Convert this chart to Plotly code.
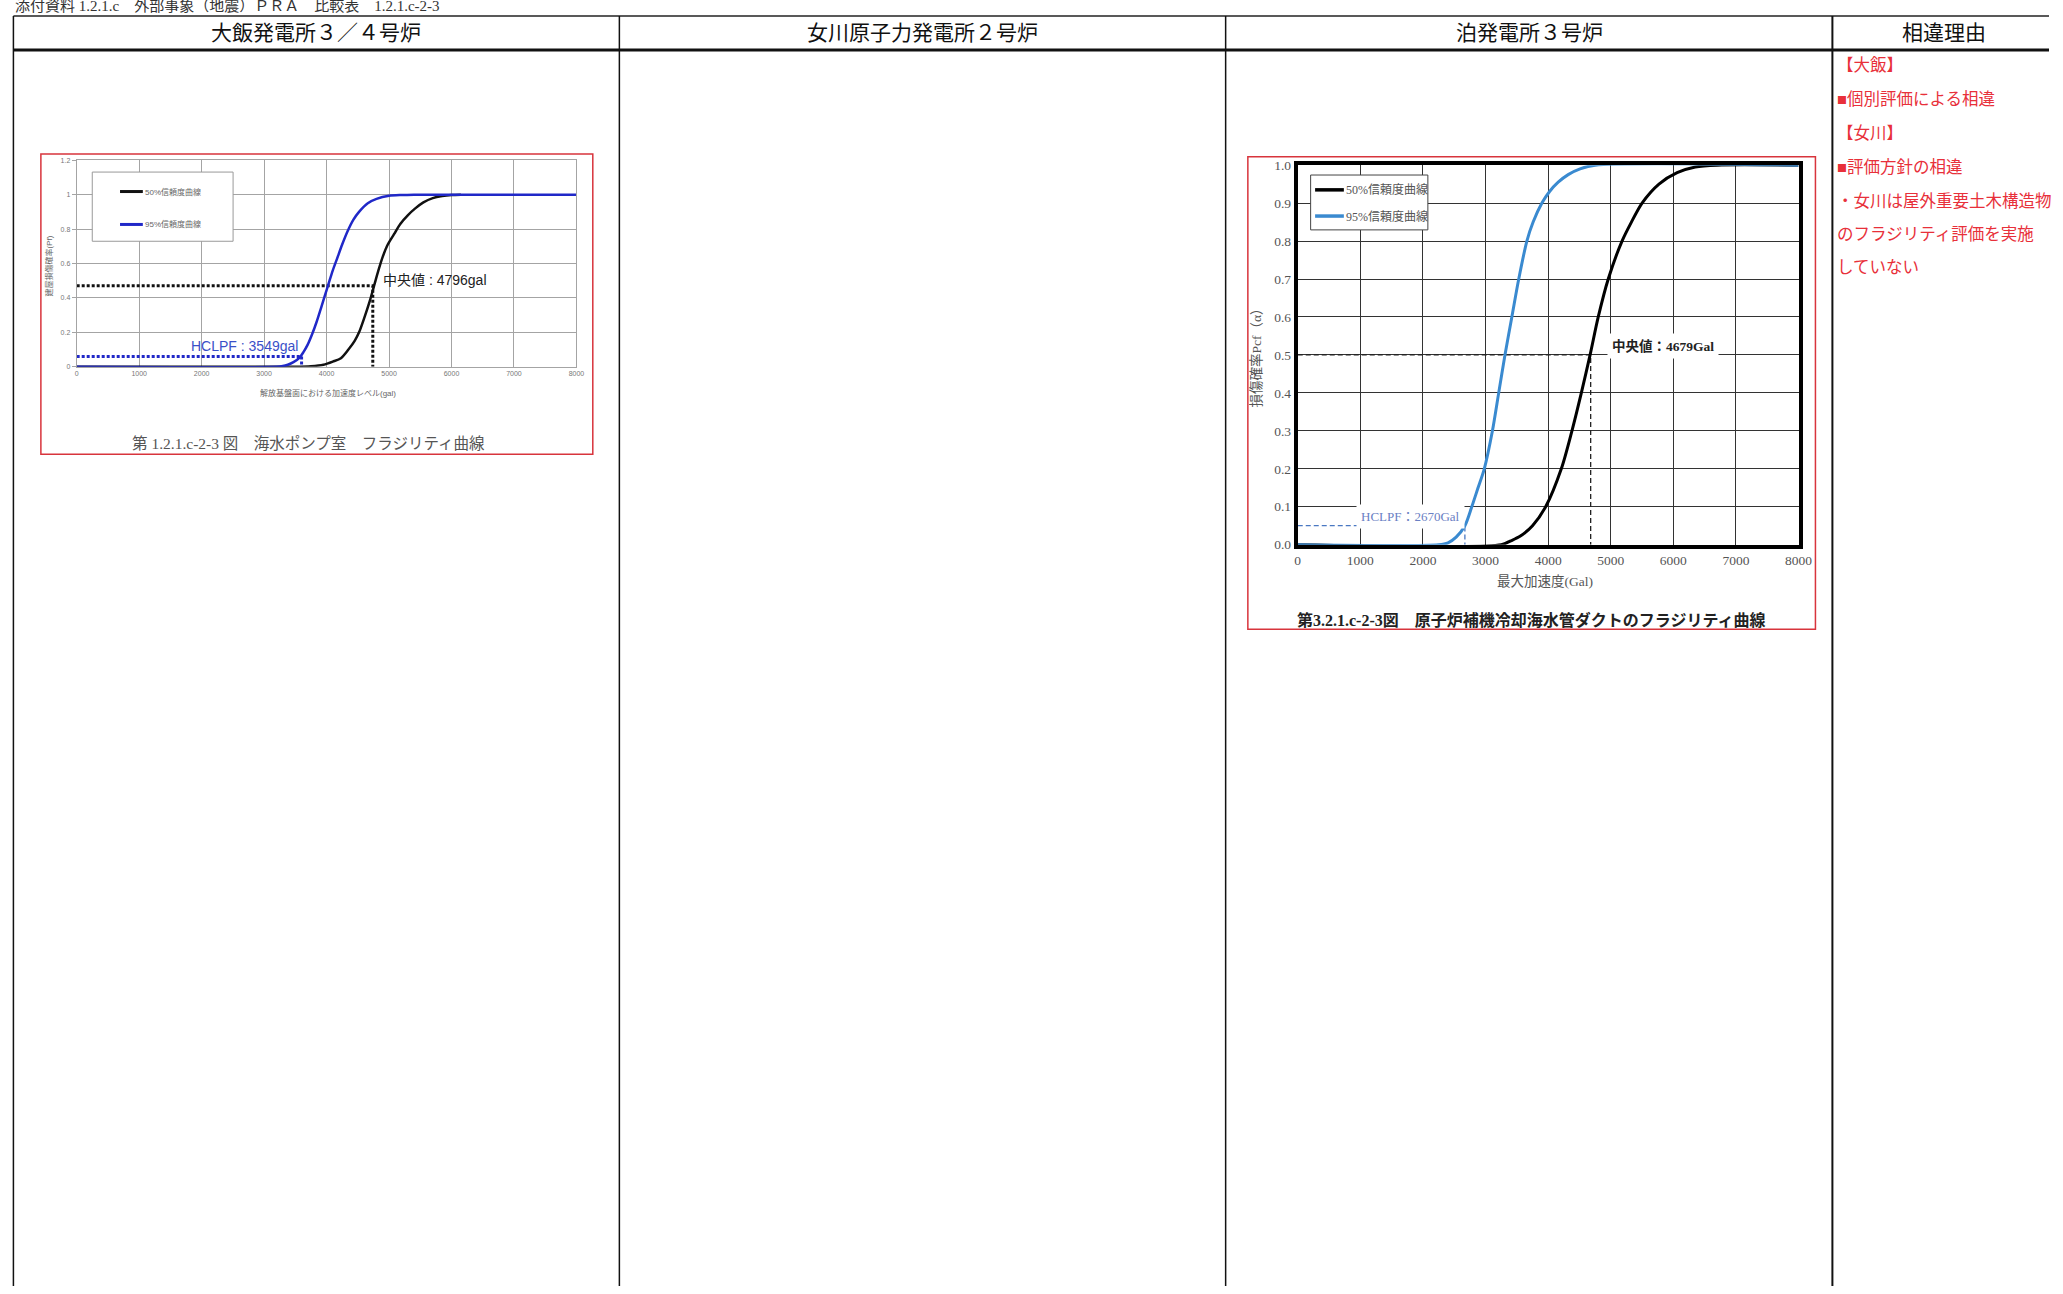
import plotly.graph_objects as go

W, H = 2063, 1294

# ---------------- data ----------------
# 大飯 3/4号炉 海水ポンプ室
ohi_x_50 = [0, 3500, 3750, 3950, 4100, 4230, 4350, 4450, 4520, 4600, 4690, 4760, 4830, 4900,
            4980, 5080, 5180, 5300, 5420, 5550, 5700, 5850, 6000, 6150]
ohi_y_50 = [0, 0, 0.003, 0.012, 0.03, 0.05, 0.1, 0.15, 0.2, 0.28, 0.38, 0.47, 0.56, 0.64,
            0.71, 0.77, 0.83, 0.88, 0.92, 0.955, 0.98, 0.992, 0.998, 1.0]
ohi_x_95 = [0, 3200, 3300, 3380, 3470, 3560, 3630, 3700, 3770, 3840, 3910, 3970, 4030, 4100,
            4170, 4250, 4340, 4430, 4520, 4660, 4800, 5000, 5200, 5400, 8000]
ohi_y_95 = [0, 0, 0.004, 0.012, 0.027, 0.05, 0.085, 0.13, 0.19, 0.26, 0.34, 0.41, 0.48, 0.56,
            0.63, 0.71, 0.79, 0.855, 0.9, 0.95, 0.975, 0.993, 0.998, 1.0, 1.0]
ohi_median_label = "中央値 : 4796gal"
ohi_median_x = [0, 4740, 4740]
ohi_median_y = [0.47, 0.47, 0]
ohi_hclpf_label = "HCLPF : 3549gal"
ohi_hclpf_x = [0, 3600, 3600]
ohi_hclpf_y = [0.06, 0.06, 0]
ohi_xticks = [0, 1000, 2000, 3000, 4000, 5000, 6000, 7000, 8000]
ohi_yticks = [0, 0.2, 0.4, 0.6, 0.8, 1.0, 1.2]
ohi_yticktext = ["0", "0.2", "0.4", "0.6", "0.8", "1", "1.2"]

# 泊 3号炉 原子炉補機冷却海水管ダクト
tom_x_50 = [0, 3250, 3400, 3550, 3750, 3960, 4210, 4380, 4530, 4670, 4800, 4960, 5180, 5330,
            5500, 5770, 6060, 6350, 6700, 8000]
tom_y_50 = [0, 0, 0.01, 0.022, 0.05, 0.1, 0.2, 0.3, 0.4, 0.5, 0.6, 0.7, 0.8, 0.85,
            0.9, 0.95, 0.98, 0.995, 1.0, 1.0]
tom_x_95 = [0, 2250, 2400, 2530, 2670, 2780, 2880, 2980, 3110, 3210, 3310, 3420, 3530, 3660,
            3760, 3900, 4020, 4160, 4320, 4510, 4750, 8000]
tom_y_95 = [0, 0, 0.005, 0.02, 0.05, 0.1, 0.15, 0.2, 0.3, 0.4, 0.5, 0.6, 0.7, 0.8,
            0.85, 0.9, 0.93, 0.955, 0.975, 0.99, 1.0, 1.0]
tom_median_label = "中央値：4679Gal"
tom_median_x = [0, 4679, 4679]
tom_median_y = [0.5, 0.5, 0]
tom_hclpf_label = "HCLPF：2670Gal"
tom_hclpf_x = [0, 2670, 2670]
tom_hclpf_y = [0.05, 0.05, 0]
tom_xticks = [0, 1000, 2000, 3000, 4000, 5000, 6000, 7000, 8000]
tom_yticks = [0.0, 0.1, 0.2, 0.3, 0.4, 0.5, 0.6, 0.7, 0.8, 0.9, 1.0]

series_names = ["50%信頼度曲線", "95%信頼度曲線"]
column_headers = ["大飯発電所３／４号炉", "女川原子力発電所２号炉", "泊発電所３号炉", "相違理由"]
reason_lines = ["【大飯】", "■個別評価による相違", "【女川】", "■評価方針の相違",
                "・女川は屋外重要土木構造物", "のフラジリティ評価を実施", "していない"]

# ---------------- helpers (screen pixel -> paper) ----------------
def px(x):
    return x / W

def py(y):
    return 1 - y / H

SERIF = "Liberation Serif, Noto Sans CJK JP"
SANS = "Liberation Sans, Noto Sans CJK JP"
NARROW = "Liberation Sans Narrow, Liberation Sans, Noto Sans CJK JP"

OHI_BLUE = "#2028c8"
TOM_BLUE = "#3a8ad0"

fig = go.Figure()

# ---- 大飯 traces ----
fig.add_trace(go.Scatter(x=ohi_median_x, y=ohi_median_y, mode="lines", xaxis="x", yaxis="y",
                         line=dict(color="#111", width=3, dash="3px,2px"), showlegend=False,
                         hoverinfo="skip"))
fig.add_trace(go.Scatter(x=ohi_hclpf_x, y=ohi_hclpf_y, mode="lines", xaxis="x", yaxis="y",
                         line=dict(color=OHI_BLUE, width=3, dash="3px,2px"), showlegend=False,
                         hoverinfo="skip"))
fig.add_trace(go.Scatter(x=ohi_x_50, y=ohi_y_50, mode="lines", name=series_names[0],
                         xaxis="x", yaxis="y", line=dict(color="#111", width=2.5, shape="spline",
                                                         smoothing=0.8), showlegend=False))
fig.add_trace(go.Scatter(x=ohi_x_95, y=ohi_y_95, mode="lines", name=series_names[1],
                         xaxis="x", yaxis="y", line=dict(color=OHI_BLUE, width=2.5, shape="spline",
                                                         smoothing=0.8), showlegend=False))

# ---- 泊 traces ----
fig.add_trace(go.Scatter(x=tom_median_x, y=tom_median_y, mode="lines", xaxis="x2", yaxis="y2",
                         line=dict(color="#222", width=1.3, dash="5px,3px"), showlegend=False,
                         hoverinfo="skip"))
fig.add_trace(go.Scatter(x=tom_hclpf_x, y=tom_hclpf_y, mode="lines", xaxis="x2", yaxis="y2",
                         line=dict(color="#4a78c2", width=1.3, dash="5px,3px"), showlegend=False,
                         hoverinfo="skip"))
fig.add_trace(go.Scatter(x=tom_x_50, y=tom_y_50, mode="lines", name=series_names[0],
                         xaxis="x2", yaxis="y2", line=dict(color="#000", width=3, shape="spline",
                                                           smoothing=0.8), showlegend=False))
fig.add_trace(go.Scatter(x=tom_x_95, y=tom_y_95, mode="lines", name=series_names[1],
                         xaxis="x2", yaxis="y2", line=dict(color=TOM_BLUE, width=3, shape="spline",
                                                           smoothing=0.8), showlegend=False))

shapes = []
annotations = []

# ---- table lines ----
tbl_left, tbl_top, tbl_hdr = 10.5, 9.2, 43.4
col_x = [10.5, 621.5, 1232.8, 1844.6, 2063]
shapes.append(dict(type="line", xref="paper", yref="paper", x0=px(tbl_left), x1=1,
                   y0=py(tbl_top), y1=py(tbl_top), line=dict(color="#222", width=1.5)))
shapes.append(dict(type="line", xref="paper", yref="paper", x0=px(tbl_left), x1=1,
                   y0=py(tbl_hdr), y1=py(tbl_hdr), line=dict(color="#111", width=3)))
for i, cx in enumerate(col_x[:4]):
    shapes.append(dict(type="line", xref="paper", yref="paper", x0=px(cx), x1=px(cx),
                       y0=py(tbl_top), y1=0, line=dict(color="#111", width=2 if i == 3 else 1.5)))
for i, txt in enumerate(column_headers):
    annotations.append(dict(text=txt, xref="paper", yref="paper",
                            x=px((col_x[i] + col_x[i + 1]) / 2) if i < 3 else px(1957),
                            y=py(26.5), xanchor="center", yanchor="middle", showarrow=False,
                            font=dict(family=SERIF, size=21, color="#111")))

# cut-off page header at the very top
annotations.append(dict(text="添付資料 1.2.1.c　外部事象（地震）ＰＲＡ　比較表　1.2.1.c-2-3",
                        xref="paper", yref="paper", x=px(10), y=py(-1), xanchor="left",
                        yanchor="middle", showarrow=False,
                        font=dict(family=SERIF, size=15, color="#333")))

# ---- reason column ----
reason_y = [59, 93.4, 127.6, 161.8, 196, 230, 263]
for txt, yy in zip(reason_lines, reason_y):
    annotations.append(dict(text=txt, xref="paper", yref="paper", x=px(1847), y=py(yy),
                            xanchor="left", yanchor="middle", showarrow=False,
                            font=dict(family=SANS, size=16.5, color="#e8303a")))

# ---- red frames ----
shapes.append(dict(type="rect", xref="paper", yref="paper", x0=px(38.2), x1=px(594.7),
                   y0=py(148.7), y1=py(452.6), line=dict(color="#d8343c", width=1.5)))
shapes.append(dict(type="rect", xref="paper", yref="paper", x0=px(1255.2), x1=px(1827.5),
                   y0=py(151.5), y1=py(629.5), line=dict(color="#d8343c", width=1.5)))

# ---- 大飯 legend ----
shapes.append(dict(type="rect", xref="paper", yref="paper", x0=px(90), x1=px(232),
                   y0=py(167), y1=py(237), line=dict(color="#999", width=1),
                   fillcolor="white", layer="above"))
for yy, col in [(186.7, "#111"), (220, OHI_BLUE)]:
    shapes.append(dict(type="line", xref="paper", yref="paper", x0=px(118), x1=px(141),
                       y0=py(yy), y1=py(yy), line=dict(color=col, width=3), layer="above"))
for yy, nm in [(186.7, series_names[0]), (220, series_names[1])]:
    annotations.append(dict(text=nm, xref="paper", yref="paper", x=px(141), y=py(yy),
                            xanchor="left", yanchor="middle", showarrow=False,
                            font=dict(family=SANS, size=8, color="#666")))

# ---- 泊 legend ----
shapes.append(dict(type="rect", xref="paper", yref="paper", x0=px(1318.5), x1=px(1436.7),
                   y0=py(170), y1=py(225.5), line=dict(color="#444", width=1),
                   fillcolor="white", layer="above"))
for yy, col in [(185, "#000"), (211.5, TOM_BLUE)]:
    shapes.append(dict(type="line", xref="paper", yref="paper", x0=px(1323), x1=px(1352),
                       y0=py(yy), y1=py(yy), line=dict(color=col, width=3.5), layer="above"))
for yy, nm in [(185, series_names[0]), (211.5, series_names[1])]:
    annotations.append(dict(text=nm, xref="paper", yref="paper", x=px(1352), y=py(yy),
                            xanchor="left", yanchor="middle", showarrow=False,
                            font=dict(family=SERIF, size=12, color="#555")))

# ---- 大飯 texts ----
annotations.append(dict(text=ohi_median_label, xref="x", yref="y", x=4870, y=0.505,
                        xanchor="left", yanchor="middle", showarrow=False,
                        font=dict(family=NARROW, size=14, color="#222")))
annotations.append(dict(text=ohi_hclpf_label, xref="x", yref="y", x=2680, y=0.12,
                        xanchor="center", yanchor="middle", showarrow=False,
                        font=dict(family=NARROW, size=14, color="#3a50c8")))
annotations.append(dict(text="解放基盤面における加速度レベル(gal)", xref="paper", yref="paper",
                        x=px(327.6), y=py(391), xanchor="center", yanchor="middle", showarrow=False,
                        font=dict(family=SANS, size=8, color="#666")))
annotations.append(dict(text="建屋損傷確率(Pf)", xref="paper", yref="paper",
                        x=px(46), y=py(262), xanchor="center", yanchor="middle", showarrow=False,
                        textangle=-90, font=dict(family=SANS, size=8, color="#666")))
annotations.append(dict(text="第 1.2.1.c-2-3 図　海水ポンプ室　フラジリティ曲線", xref="paper", yref="paper",
                        x=px(308), y=py(442), xanchor="center", yanchor="middle", showarrow=False,
                        font=dict(family=SERIF, size=15.5, color="#555")))

# ---- 泊 texts ----
annotations.append(dict(text="<b>" + tom_median_label + "</b>", xref="x2", yref="y2", x=4940, y=0.524,
                        xanchor="left", yanchor="middle", showarrow=False, bgcolor="white",
                        borderpad=4, font=dict(family=SERIF, size=13.5, color="#222")))
annotations.append(dict(text=tom_hclpf_label, xref="x2", yref="y2", x=1798, y=0.0755,
                        xanchor="center", yanchor="middle", showarrow=False, bgcolor="white",
                        borderpad=4, font=dict(family=SERIF, size=13, color="#6a80c4")))
annotations.append(dict(text="最大加速度(Gal)", xref="paper", yref="paper",
                        x=px(1555), y=py(581.5), xanchor="center", yanchor="middle", showarrow=False,
                        font=dict(family=SERIF, size=13.5, color="#555")))
annotations.append(dict(text="損傷確率Pcf（α）", xref="paper", yref="paper",
                        x=px(1264), y=py(352), xanchor="center", yanchor="middle", showarrow=False,
                        textangle=-90, font=dict(family=SERIF, size=13.5, color="#555")))
annotations.append(dict(text="<b>第3.2.1.c-2-3図　原子炉補機冷却海水管ダクトのフラジリティ曲線</b>",
                        xref="paper", yref="paper", x=px(1541), y=py(620), xanchor="center",
                        yanchor="middle", showarrow=False,
                        font=dict(family=SERIF, size=16, color="#222")))

fig.update_layout(
    width=W, height=H, margin=dict(l=0, r=0, t=0, b=0),
    paper_bgcolor="white", plot_bgcolor="white", showlegend=False,
    shapes=shapes, annotations=annotations,
    xaxis=dict(domain=[px(74.3), px(578.2)], range=[0, 8000], tickvals=ohi_xticks,
               ticktext=[str(v) for v in ohi_xticks], showgrid=True, gridcolor="#a4a4a4",
               gridwidth=1, showline=True, mirror=True, linecolor="#a4a4a4", linewidth=1,
               zeroline=False, ticks="", tickfont=dict(family=SANS, size=7, color="#777"),
               anchor="y", fixedrange=True),
    yaxis=dict(domain=[py(364), py(155)], range=[0, 1.2], tickvals=ohi_yticks,
               ticktext=ohi_yticktext, showgrid=True, gridcolor="#a4a4a4", gridwidth=1,
               showline=True, mirror=True, linecolor="#a4a4a4", linewidth=1, zeroline=False,
               ticks="outside", ticklen=4, tickcolor="#a4a4a4",
               tickfont=dict(family=SANS, size=7, color="#777"), anchor="x", fixedrange=True),
    xaxis2=dict(domain=[px(1305.5), px(1810.5)], range=[0, 8000], tickvals=tom_xticks,
                ticktext=[str(v) for v in tom_xticks], showgrid=True, gridcolor="#333",
                gridwidth=1.3, showline=True, mirror=True, linecolor="#000", linewidth=4,
                zeroline=False, ticks="", tickfont=dict(family=SERIF, size=13.5, color="#555"),
                anchor="y2", fixedrange=True),
    yaxis2=dict(domain=[py(544), py(160)], range=[0, 1.0], tickvals=tom_yticks,
                ticktext=["%.1f" % v for v in tom_yticks], showgrid=True, gridcolor="#333",
                gridwidth=1.3, showline=True, mirror=True, linecolor="#000", linewidth=4,
                zeroline=False, ticks="", tickfont=dict(family=SERIF, size=13.5, color="#555"),
                anchor="x2", fixedrange=True),
)

fig.write_html(
    "out.html", config={"displayModeBar": False},
    post_script=("document.documentElement.style.margin='0';"
                 "document.documentElement.style.padding='0';"
                 "document.documentElement.style.overflow='hidden';"
                 "document.body.style.margin='0';"
                 "document.body.style.padding='0';"
                 "document.body.style.overflow='hidden';"
                 "window.scrollTo(0,0);"))
